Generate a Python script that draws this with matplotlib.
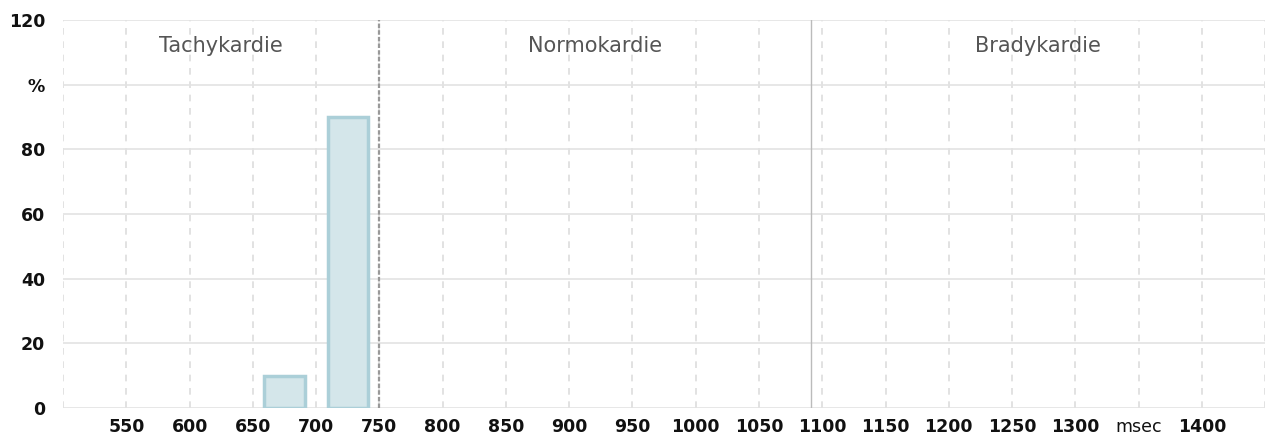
import matplotlib
matplotlib.use('Agg')
import matplotlib.pyplot as plt
import numpy as np

# RR interval histogram data
bin_centers = [675, 725]
percents = [10, 90]
bar_width = 32

zone_names = ['Tachykardie', 'Normokardie', 'Bradykardie']
zone_limits = [500, 750, 1091, 1450]

x_ticks = list(range(550, 1401, 50))
x_labels = ['msec' if t == 1350 else str(t) for t in x_ticks]
y_ticks = [0, 20, 40, 60, 80, 100, 120]
y_labels = ['%' if t == 100 else str(t) for t in y_ticks]

plt.rcParams['font.family'] = ['DejaVu Sans']

fig = plt.figure(figsize=(12.66, 4.37), dpi=100)
ax = fig.add_axes([0.0498, 0.066, 0.9495, 0.888])
ax.set_xlim(500, 1450)
ax.set_ylim(0, 120)

# grid
for x in range(500, 1451, 50):
    ax.axvline(x, color='#dddddd', lw=1.2, ls=(0, (4, 4)), zorder=0)
for y in y_ticks:
    ax.axhline(y, color='#e3e3e3', lw=1.2, zorder=0)

# zone separators
ax.axvline(zone_limits[1], color='#999999', lw=1.6, ls=(0, (2, 1)), zorder=1)
ax.axvline(zone_limits[2], color='#bbbbbb', lw=1.0, zorder=1)

for name, lo, hi in zip(zone_names, zone_limits[:-1], zone_limits[1:]):
    ax.text((lo + hi) / 2, 112, name, ha='center', va='center',
            fontsize=15, color='#555555')

ax.bar(bin_centers, percents, width=bar_width, color='#d4e6ea',
       edgecolor='#abcfd8', linewidth=2.5, zorder=2)

ax.set_xticks(x_ticks)
ax.set_xticklabels(x_labels)
ax.set_yticks(y_ticks)
ax.set_yticklabels(y_labels)
ax.tick_params(length=0, labelsize=12.5, colors='#111111')
ax.tick_params(axis='x', pad=7)
ax.tick_params(axis='y', pad=13)
for lbl in ax.get_xticklabels() + ax.get_yticklabels():
    if lbl.get_text() != 'msec':
        lbl.set_fontweight('bold')
for s in ax.spines.values():
    s.set_visible(False)

fig.savefig('out.png', dpi=100, facecolor='white')
